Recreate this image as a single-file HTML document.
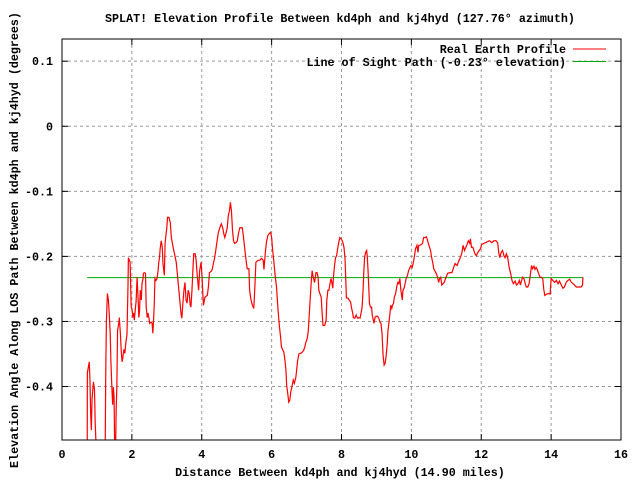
<!DOCTYPE html>
<html><head><meta charset="utf-8"><style>
body{margin:0;background:#fff}
svg text{font-family:"Liberation Mono",monospace;font-weight:bold;font-size:11.7px;fill:#000}
</style></head><body>
<svg id="chart" width="640" height="480" viewBox="0 0 640 480" xmlns="http://www.w3.org/2000/svg">
<rect x="0" y="0" width="640" height="480" fill="#fff"/>
<g id="grid"></g>
<g id="ticks"></g>
<text x="340" y="22" text-anchor="middle">SPLAT! Elevation Profile Between kd4ph and kj4hyd (127.76° azimuth)</text>
<text x="340" y="476" text-anchor="middle">Distance Between kd4ph and kj4hyd (14.90 miles)</text>
<text x="18" y="240" text-anchor="middle" transform="rotate(-90 18 240)">Elevation Angle Along LOS Path Between kd4ph and kj4hyd (degrees)</text>
<defs><clipPath id="pc"><rect x="62" y="39" width="559" height="401"/></clipPath></defs>
<g id="series" clip-path="url(#pc)"></g>
<g>
<text x="566" y="53" text-anchor="end">Real Earth Profile</text>
<line x1="573" y1="49" x2="606" y2="49" stroke="#f00" stroke-width="1"/>
<text x="566" y="66" text-anchor="end">Line of Sight Path (-0.23° elevation)</text>
<line x1="573" y1="61.5" x2="606" y2="61.5" stroke="#0a0" stroke-width="1"/>
</g>
<rect x="62" y="39" width="559" height="401" fill="none" stroke="#000" stroke-width="1"/>
</svg>
<script>
const xTicks=[0,2,4,6,8,10,12,14,16];
const yTicks=[0.1,0,-0.1,-0.2,-0.3,-0.4];
const yTickLabels=["0.1","0","-0.1","-0.2","-0.3","-0.4"];
const losElevation=-0.2327;
const losStart=0.72, losEnd=14.91;
const dist=[0.72,0.726,0.78,0.80,0.82,0.84,0.86,0.90,0.93,0.95,0.98,1.00,1.23,1.25,1.27,1.30,1.33,1.35,1.38,1.40,1.43,1.45,1.47,1.49,1.52,1.55,1.57,1.59,1.63,1.64,1.67,1.70,1.72,1.74,1.77,1.80,1.82,1.86,1.89,1.90,1.95,1.98,2.00,2.03,2.05,2.07,2.10,2.12,2.15,2.18,2.20,2.22,2.24,2.27,2.29,2.32,2.33,2.36,2.39,2.41,2.44,2.46,2.49,2.51,2.55,2.58,2.60,2.62,2.64,2.66,2.69,2.72,2.75,2.77,2.79,2.81,2.84,2.87,2.89,2.93,2.95,2.98,3.00,3.02,3.06,3.10,3.13,3.18,3.22,3.27,3.31,3.34,3.37,3.41,3.43,3.46,3.49,3.52,3.55,3.58,3.61,3.64,3.67,3.69,3.72,3.75,3.77,3.81,3.84,3.87,3.89,3.91,3.94,3.98,4.01,4.03,4.05,4.09,4.13,4.16,4.19,4.22,4.27,4.30,4.34,4.37,4.40,4.44,4.47,4.50,4.53,4.56,4.60,4.63,4.66,4.69,4.73,4.76,4.79,4.82,4.85,4.88,4.91,4.94,4.98,5.02,5.05,5.09,5.16,5.19,5.22,5.26,5.30,5.35,5.37,5.41,5.45,5.49,5.52,5.55,5.61,5.66,5.71,5.76,5.78,5.82,5.85,5.89,5.93,5.97,6.00,6.03,6.06,6.10,6.14,6.18,6.22,6.26,6.28,6.32,6.35,6.38,6.41,6.43,6.46,6.49,6.52,6.55,6.59,6.62,6.65,6.69,6.71,6.74,6.78,6.83,6.88,6.92,6.95,6.98,7.02,7.05,7.08,7.11,7.14,7.16,7.19,7.23,7.27,7.30,7.33,7.35,7.38,7.42,7.44,7.47,7.52,7.56,7.58,7.61,7.64,7.67,7.70,7.73,7.75,7.77,7.80,7.83,7.86,7.89,7.92,7.95,7.99,8.02,8.04,8.07,8.10,8.12,8.14,8.18,8.22,8.26,8.29,8.32,8.34,8.38,8.42,8.45,8.47,8.50,8.53,8.56,8.59,8.62,8.64,8.66,8.69,8.72,8.74,8.76,8.78,8.80,8.83,8.86,8.88,8.90,8.93,8.96,8.99,9.03,9.07,9.10,9.13,9.16,9.19,9.22,9.25,9.28,9.31,9.33,9.36,9.39,9.41,9.44,9.46,9.49,9.51,9.55,9.58,9.61,9.64,9.67,9.70,9.74,9.76,9.79,9.82,9.85,9.89,9.92,9.96,9.99,10.02,10.05,10.08,10.12,10.16,10.19,10.21,10.24,10.28,10.32,10.35,10.40,10.43,10.45,10.48,10.52,10.55,10.58,10.61,10.64,10.67,10.71,10.75,10.78,10.81,10.84,10.87,10.94,10.99,11.04,11.10,11.16,11.21,11.25,11.31,11.35,11.39,11.44,11.48,11.52,11.56,11.59,11.63,11.67,11.69,11.72,11.76,11.79,11.82,11.86,11.90,11.94,11.98,12.01,12.07,12.12,12.19,12.24,12.30,12.36,12.42,12.47,12.50,12.53,12.57,12.61,12.65,12.68,12.72,12.76,12.80,12.84,12.88,12.92,12.97,13.01,13.05,13.09,13.12,13.14,13.18,13.22,13.26,13.29,13.33,13.37,13.41,13.44,13.47,13.51,13.54,13.57,13.60,13.64,13.68,13.72,13.76,13.79,13.82,13.87,13.93,13.97,14.00,14.05,14.10,14.15,14.20,14.24,14.29,14.34,14.38,14.43,14.48,14.53,14.58,14.63,14.67,14.72,14.79,14.86,14.90,14.91];
const elev=[-0.55,-0.379,-0.362,-0.390,-0.441,-0.467,-0.419,-0.393,-0.405,-0.456,-0.497,-0.55,-0.55,-0.390,-0.301,-0.257,-0.268,-0.287,-0.318,-0.362,-0.405,-0.428,-0.401,-0.416,-0.55,-0.436,-0.401,-0.314,-0.301,-0.294,-0.318,-0.349,-0.362,-0.356,-0.343,-0.349,-0.336,-0.320,-0.242,-0.202,-0.209,-0.278,-0.280,-0.294,-0.287,-0.298,-0.280,-0.270,-0.232,-0.267,-0.294,-0.283,-0.252,-0.267,-0.242,-0.234,-0.226,-0.225,-0.226,-0.278,-0.294,-0.287,-0.295,-0.303,-0.301,-0.303,-0.318,-0.298,-0.275,-0.234,-0.237,-0.234,-0.222,-0.209,-0.202,-0.188,-0.176,-0.186,-0.211,-0.229,-0.180,-0.165,-0.156,-0.140,-0.140,-0.148,-0.171,-0.186,-0.196,-0.209,-0.232,-0.249,-0.267,-0.290,-0.295,-0.272,-0.252,-0.240,-0.267,-0.272,-0.252,-0.257,-0.275,-0.278,-0.252,-0.217,-0.196,-0.196,-0.206,-0.229,-0.240,-0.252,-0.222,-0.209,-0.232,-0.257,-0.275,-0.263,-0.261,-0.260,-0.247,-0.225,-0.223,-0.220,-0.209,-0.202,-0.191,-0.176,-0.165,-0.159,-0.154,-0.150,-0.156,-0.165,-0.171,-0.165,-0.156,-0.137,-0.131,-0.117,-0.130,-0.160,-0.176,-0.180,-0.179,-0.176,-0.165,-0.156,-0.156,-0.168,-0.183,-0.202,-0.219,-0.219,-0.252,-0.267,-0.275,-0.280,-0.247,-0.209,-0.206,-0.206,-0.203,-0.206,-0.220,-0.194,-0.179,-0.168,-0.165,-0.163,-0.171,-0.191,-0.206,-0.229,-0.247,-0.280,-0.306,-0.326,-0.339,-0.344,-0.347,-0.359,-0.375,-0.398,-0.410,-0.424,-0.421,-0.408,-0.398,-0.390,-0.395,-0.387,-0.378,-0.362,-0.350,-0.349,-0.347,-0.344,-0.339,-0.332,-0.326,-0.314,-0.287,-0.260,-0.234,-0.222,-0.232,-0.240,-0.225,-0.225,-0.232,-0.252,-0.257,-0.263,-0.283,-0.306,-0.306,-0.298,-0.267,-0.252,-0.252,-0.242,-0.234,-0.242,-0.249,-0.232,-0.214,-0.202,-0.199,-0.188,-0.179,-0.171,-0.173,-0.176,-0.179,-0.186,-0.202,-0.232,-0.264,-0.264,-0.267,-0.270,-0.280,-0.287,-0.294,-0.295,-0.290,-0.294,-0.295,-0.294,-0.295,-0.287,-0.278,-0.249,-0.222,-0.202,-0.194,-0.191,-0.202,-0.222,-0.247,-0.272,-0.278,-0.278,-0.290,-0.295,-0.303,-0.294,-0.292,-0.292,-0.295,-0.301,-0.303,-0.318,-0.352,-0.367,-0.364,-0.352,-0.333,-0.314,-0.301,-0.286,-0.275,-0.280,-0.275,-0.272,-0.263,-0.257,-0.247,-0.240,-0.242,-0.234,-0.252,-0.267,-0.252,-0.249,-0.242,-0.234,-0.229,-0.222,-0.217,-0.214,-0.217,-0.211,-0.202,-0.188,-0.183,-0.194,-0.183,-0.183,-0.182,-0.180,-0.171,-0.171,-0.170,-0.173,-0.179,-0.186,-0.191,-0.202,-0.209,-0.219,-0.222,-0.226,-0.232,-0.240,-0.234,-0.232,-0.244,-0.240,-0.232,-0.226,-0.225,-0.225,-0.217,-0.211,-0.214,-0.208,-0.203,-0.196,-0.183,-0.191,-0.186,-0.182,-0.176,-0.180,-0.173,-0.186,-0.186,-0.191,-0.196,-0.199,-0.194,-0.191,-0.188,-0.182,-0.180,-0.179,-0.177,-0.176,-0.179,-0.176,-0.176,-0.179,-0.194,-0.202,-0.194,-0.191,-0.199,-0.202,-0.196,-0.203,-0.217,-0.226,-0.237,-0.242,-0.238,-0.244,-0.242,-0.237,-0.244,-0.240,-0.232,-0.234,-0.242,-0.247,-0.247,-0.242,-0.226,-0.214,-0.219,-0.215,-0.220,-0.217,-0.220,-0.226,-0.232,-0.232,-0.234,-0.251,-0.260,-0.258,-0.257,-0.258,-0.234,-0.237,-0.240,-0.237,-0.242,-0.238,-0.244,-0.249,-0.247,-0.240,-0.237,-0.235,-0.240,-0.242,-0.244,-0.247,-0.247,-0.247,-0.244,-0.232];

const L=62,R=621,T=39,B=440,XMIN=0,XMAX=16,YMIN=-0.4822,YMAX=0.1341;
function sx(v){return L+(v-XMIN)/(XMAX-XMIN)*(R-L);}
function sy(v){return B-(v-YMIN)/(YMAX-YMIN)*(B-T);}
const NS="http://www.w3.org/2000/svg";
const grid=document.getElementById('grid'),ticks=document.getElementById('ticks'),series=document.getElementById('series');
function mk(tag,attrs,parent){const e=document.createElementNS(NS,tag);for(const k in attrs)e.setAttribute(k,attrs[k]);parent.appendChild(e);return e;}
xTicks.forEach(function(v){
  const x=sx(v);
  if(v>XMIN&&v<XMAX){
    const g=mk('line',{x1:x,y1:T,x2:x,y2:B,stroke:'#999','stroke-dasharray':'3,3'},grid);
    
    
  }
  const t1=mk('line',{x1:x,y1:B,x2:x,y2:B-6,stroke:'#000'},grid);
  
  
  const t2=mk('line',{x1:x,y1:T,x2:x,y2:T+6,stroke:'#000'},grid);
  
  
  const lb=mk('text',{x:x,y:458,'text-anchor':'middle'},ticks);
  lb.textContent=String(v);
  
  
});
yTicks.forEach(function(v,i){
  const y=sy(v);
  const g=mk('line',{x1:L,y1:y,x2:R,y2:y,stroke:'#999','stroke-dasharray':'3,3'},grid);
  
  
  const t1=mk('line',{x1:L,y1:y,x2:L+6,y2:y,stroke:'#000'},grid);
  
  
  const t2=mk('line',{x1:R,y1:y,x2:R-6,y2:y,stroke:'#000'},grid);
  
  
  const lb=mk('text',{x:53,y:y+4,'text-anchor':'end'},ticks);
  lb.textContent=yTickLabels[i];
  
  
});
const los=mk('line',{x1:sx(losStart),y1:sy(losElevation),x2:sx(losEnd),y2:sy(losElevation),stroke:'#0a0','stroke-width':1},series);


const pts=dist.map(function(d,i){return sx(d).toFixed(2)+','+sy(elev[i]).toFixed(2);}).join(' ');
const pl=mk('polyline',{points:pts,fill:'none',stroke:'#f00','stroke-width':1.2},series);


</script>
</body></html>
